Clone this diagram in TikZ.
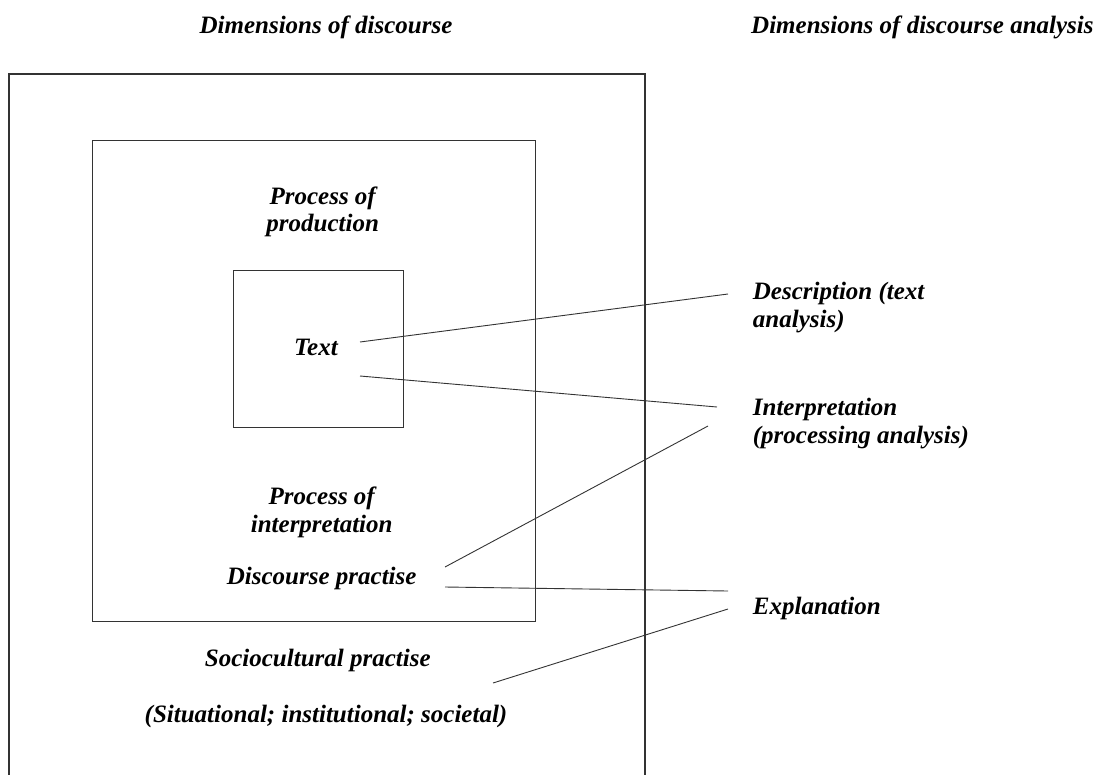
\documentclass[tikz,border=0pt]{standalone}
\usepackage{fontspec}
\setmainfont{Liberation Serif}
\begin{document}
\begin{tikzpicture}[x=1pt,y=-1pt,
  lbl/.style={font=\bfseries\itshape\fontsize{25}{28}\selectfont, inner sep=0pt, text=black},
  boxline/.style={draw=black!80, line width=1.1pt},
  conn/.style={draw=black!80, line width=0.9pt}]
\useasboundingbox (0,0) rectangle (1106,774);
% boxes
\draw[boxline] (9,776) -- (9,74) -- (645,74) -- (645,776);
\node[boxline, inner sep=0pt, minimum width=443pt, minimum height=481pt, anchor=north west] (mid) at (92,140) {};
\node[boxline, inner sep=0pt, minimum width=169.5pt, minimum height=157pt, anchor=north west] (inner) at (233,270) {};
% headings
\node[lbl, anchor=base] (h1) at (326,33) {Dimensions of discourse};
\node[lbl, anchor=base west] (h2) at (751,33) {Dimensions of discourse analysis};
% left texts
\node[lbl, anchor=base] (prod1) at (322.7,204) {Process of};
\node[lbl, anchor=base] (prod2) at (322.7,231.7) {production};
\node[lbl, anchor=base] (text) at (316,355) {Text};
\node[lbl, anchor=base] (int1) at (321.7,504.6) {Process of};
\node[lbl, anchor=base] (int2) at (321.7,532.3) {interpretation};
\node[lbl, anchor=base] (dp) at (321.7,584) {Discourse practise};
\node[lbl, anchor=base] (sp) at (317.8,666.7) {Sociocultural practise};
\node[lbl, anchor=base] (sit) at (326,722.7) {(Situational; institutional; societal)};
% right texts
\node[lbl, anchor=base west] (desc1) at (752.7,299.3) {Description (text};
\node[lbl, anchor=base west] (desc2) at (752.7,327) {analysis)};
\node[lbl, anchor=base west] (interp1) at (752.7,415.7) {Interpretation};
\node[lbl, anchor=base west] (interp2) at (752.7,443.3) {(processing analysis)};
\node[lbl, anchor=base west] (expl) at (752.7,614.3) {Explanation};
% connector end points
\coordinate (tA) at (360,342);
\coordinate (tB) at (360,376);
\coordinate (dA) at (728,294);
\coordinate (iA) at (717,407);
\coordinate (iB) at (708,426);
\coordinate (dpA) at (445,567);
\coordinate (dpB) at (445,587);
\coordinate (eA) at (728,591);
\coordinate (eB) at (728,609);
\coordinate (spA) at (493,683);
% connectors
\draw[conn] (tA) -- (dA);
\draw[conn] (tB) -- (iA);
\draw[conn] (dpA) -- (iB);
\draw[conn] (dpB) -- (eA);
\draw[conn] (spA) -- (eB);
\end{tikzpicture}
\end{document}
